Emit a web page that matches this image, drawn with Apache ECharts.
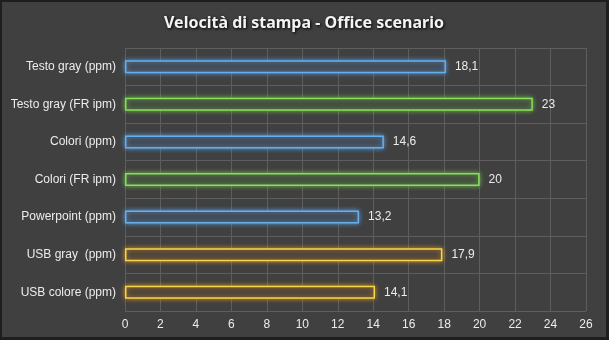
<!DOCTYPE html>
<html><head><meta charset="utf-8">
<script src="https://cdn.jsdelivr.net/npm/echarts@6/dist/echarts.min.js"></script>
<style>html,body{margin:0;padding:0;background:#fff}#c{width:609px;height:340px;box-sizing:border-box;border:2px solid #1e1e1e;border-right-width:3px;border-bottom-width:3px}</style>
</head><body><div id="c"></div>
<script>
const categories = ['Testo gray (ppm)','Testo gray (FR ipm)','Colori (ppm)','Colori (FR ipm)','Powerpoint (ppm)','USB gray  (ppm)','USB colore (ppm)'];
const values = [18.1, 23, 14.6, 20, 13.2, 17.9, 14.1];
const xTicks = [0,2,4,6,8,10,12,14,16,18,20,22,24,26];

const styles = {
  blue:   {border:'#6aaee8', fill:'#434a54', glow:'rgba(90,160,230,0.9)'},
  green:  {border:'#86e05a', fill:'#434c40', glow:'rgba(120,210,80,0.8)'},
  yellow: {border:'#f2d84a', fill:'#4c443a', glow:'rgba(230,150,40,0.9)'}
};
const rowStyle = ['blue','green','blue','green','blue','yellow','yellow'];

const chart = echarts.init(document.getElementById('c'));
chart.setOption({
  backgroundColor:'#404040',
  animation:false,
  title:{text:'Velocità di stampa - Office scenario',left:'center',top:8,
    textStyle:{color:'#f4f4f4',fontSize:16,fontWeight:'bold',fontFamily:'Noto Sans',
      textShadowColor:'#000',textShadowBlur:3,textShadowOffsetX:1,textShadowOffsetY:1}},
  grid:{left:123,right:20,top:46,bottom:26,containLabel:false},
  xAxis:{type:'value',min:xTicks[0],max:xTicks[xTicks.length-1],interval:2,
    axisLine:{show:false},axisTick:{show:false},
    axisLabel:{color:'#ececec',fontSize:12,fontFamily:'Liberation Sans',margin:8},
    splitLine:{show:true,lineStyle:{color:'#5e5e5e',width:1}}},
  yAxis:{type:'category',data:categories,inverse:true,
    axisLine:{show:false},axisTick:{show:false},
    axisLabel:{color:'#ececec',fontSize:12,fontFamily:'Liberation Sans',margin:9},
    splitLine:{show:true,lineStyle:{color:'#5e5e5e',width:1}}},
  series:[{type:'bar',barWidth:13,
    data:values.map((v,i)=>{const s=styles[rowStyle[i]];return {value:v,itemStyle:{color:s.fill,borderColor:s.border,borderWidth:1.5,shadowColor:s.glow,shadowBlur:5}};}),
    label:{show:true,position:'right',distance:9,color:'#ececec',fontSize:12,fontFamily:'Liberation Sans',
      formatter:p=>String(p.value).replace('.',',')}
  }]
});
</script></body></html>
